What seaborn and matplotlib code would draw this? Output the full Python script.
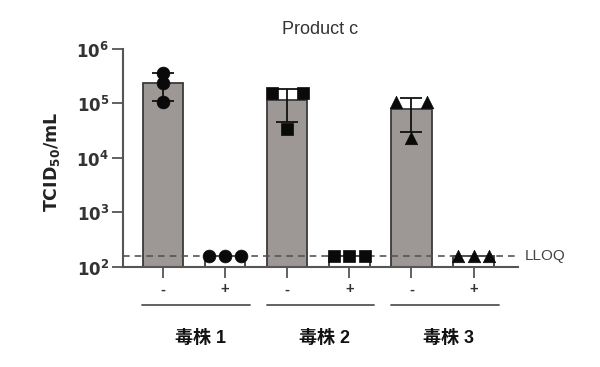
import numpy as np
import pandas as pd
import matplotlib
matplotlib.use("Agg")
import matplotlib.pyplot as plt
import matplotlib.transforms as mtransforms
import seaborn as sns

# ---- data ----
strains = ["毒株 1", "毒株 2", "毒株 3"]
treatments = ["-", "+"]
strain1_minus = [3.6e5, 2.4e5, 1.07e5]
strain1_plus = [160, 160, 160]
strain2_minus = [1.55e5, 1.55e5, 3.4e4]
strain2_plus = [160, 160, 160]
strain3_minus = [1.07e5, 1.07e5, 2.3e4]
strain3_plus = [160, 160, 160]
lloq = 160
title = "Product c"
ytick_values = [1e2, 1e3, 1e4, 1e5, 1e6]
ytick_labels = ["$\\mathbf{10^{2}}$", "$\\mathbf{10^{3}}$", "$\\mathbf{10^{4}}$",
                "$\\mathbf{10^{5}}$", "$\\mathbf{10^{6}}$"]

sns.set_theme(style="white")
plt.rcParams["font.family"] = ["Liberation Sans", "Noto Sans CJK SC", "DejaVu Sans"]
plt.rcParams["mathtext.fontset"] = "custom"
plt.rcParams["mathtext.bf"] = "DejaVu Sans:bold"
plt.rcParams["mathtext.rm"] = "DejaVu Sans"

groups = [strain1_minus, strain1_plus, strain2_minus, strain2_plus, strain3_minus, strain3_plus]
labels = [f"{s}{t}" for s in strains for t in treatments]
means = [np.mean(g) for g in groups]
sds = [np.std(g, ddof=1) for g in groups]
df = pd.DataFrame({"cond": labels, "value": means})

fig = plt.figure(figsize=(6.0, 3.67), dpi=100)
ax = fig.add_axes([0.205, 0.2725, 0.658, 0.594])

palette = ["#9e9795", "#ffffff"] * 3
sns.barplot(data=df, x="cond", y="value", hue="cond", palette=palette, legend=False,
            order=labels, width=0.65, edgecolor="#3a3a3a", linewidth=1.3,
            errorbar=None, ax=ax, log_scale=(False, True))

# error bars (only where spread exists)
for i, (m, s) in enumerate(zip(means, sds)):
    if s > 0:
        ax.errorbar(i, m, yerr=[[s], [s]], fmt="none", ecolor="#111111",
                    elinewidth=1.3, capsize=8, capthick=1.3, zorder=4)

# individual points
markers = ["o", "o", "s", "s", "^", "^"]
sizes = [85, 85, 85, 85, 80, 80]
offsets = [[0, 0, 0], [-0.25, 0, 0.25],
           [-0.25, 0.25, 0], [-0.25, 0, 0.25],
           [-0.25, 0.25, 0], [-0.25, 0, 0.25]]
for i, g in enumerate(groups):
    xs = [i + o for o in offsets[i]]
    sns.scatterplot(x=xs, y=g, marker=markers[i], s=sizes[i], color="#0a0a0a",
                    edgecolor="#0a0a0a", linewidth=0.5, ax=ax, zorder=5, legend=False)

ax.set_yscale("log")
ax.set_ylim(1e2, 1e6)
ax.set_xlim(-0.64, 5.71)
ax.set_yticks(ytick_values)
ax.set_yticklabels(ytick_labels, fontsize=12, color="#333333")
ax.yaxis.set_minor_locator(matplotlib.ticker.NullLocator())
ax.set_xticks(range(6))
ax.set_xticklabels(treatments * 3, fontsize=10.5, fontweight="bold", color="#333333")
ax.tick_params(axis="both", which="major", direction="out", length=8, width=1.3,
               color="#555555", left=True, bottom=True)
ax.tick_params(axis="x", pad=3)
ax.tick_params(axis="y", pad=2)

for side in ["top", "right"]:
    ax.spines[side].set_visible(False)
for side in ["left", "bottom"]:
    ax.spines[side].set_color("#555555")
    ax.spines[side].set_linewidth(1.5)

ax.set_xlabel("")
ax.set_ylabel("TCID$_{\\mathbf{50}}$/mL", fontsize=12.5, fontweight="bold", color="#222222",
              family=["DejaVu Sans"])
ax.yaxis.set_label_coords(-0.155, 0.48)
ax.set_title(title, fontsize=13, color="#333333", pad=11)

# LLOQ line
ax.axhline(lloq, color="#555555", linestyle=(0, (4, 3)), linewidth=1.2, zorder=1)
ax.text(5.82, lloq, "LLOQ", va="center", ha="left", fontsize=11, color="#444444",
        clip_on=False)

# group underlines and labels
trans = mtransforms.blended_transform_factory(ax.transData, ax.transAxes)
for k, s in enumerate(strains):
    x0 = 2 * k - 0.33
    x1 = 2 * k + 1 + 0.4
    ax.plot([x0, x1], [-0.175, -0.175], color="#555555", lw=1.3, transform=trans, clip_on=False)
    ax.text(2 * k + 0.6, -0.33, s, transform=trans, ha="center", va="center",
            fontsize=13, fontweight="bold", color="#111111",
            family=["Liberation Sans", "Noto Sans CJK SC"])

fig.savefig("out.png", dpi=100, facecolor="white")
